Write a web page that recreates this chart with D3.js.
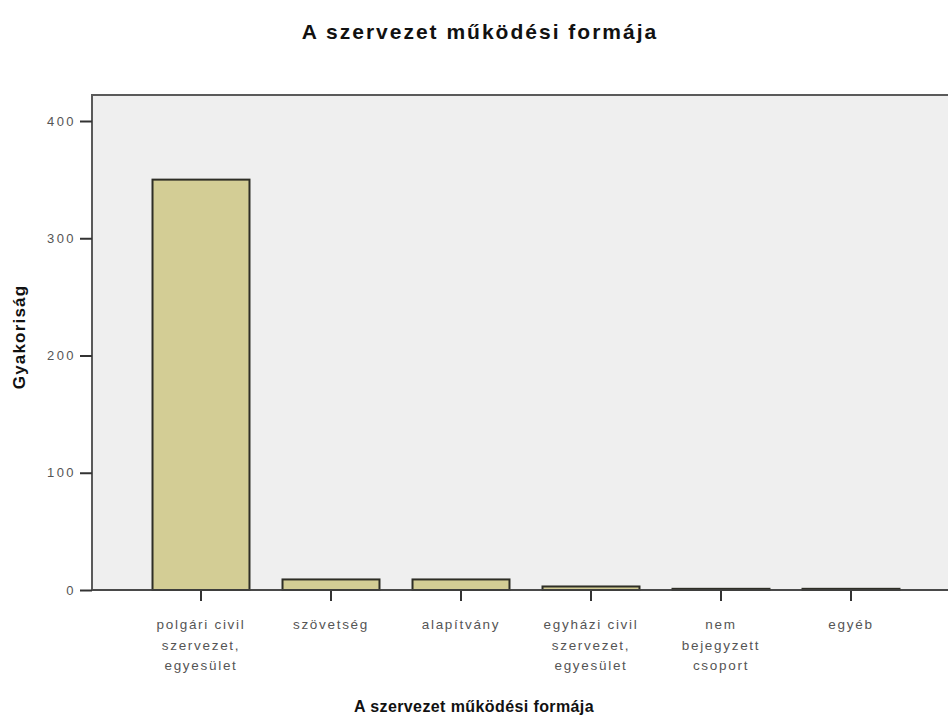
<!DOCTYPE html>
<html>
<head>
<meta charset="utf-8">
<script src="https://cdn.jsdelivr.net/npm/d3@7"></script>
<style>
  html, body { margin: 0; padding: 0; background: #ffffff; }
  svg { display: block; font-family: Arial, "Liberation Sans", sans-serif; }
</style>
</head>
<body>
<script>
// Frequencies of the organisations' operating form
const categories = [
  ["polgári civil", "szervezet,", "egyesület"],
  ["szövetség"],
  ["alapítvány"],
  ["egyházi civil", "szervezet,", "egyesület"],
  ["nem", "bejegyzett", "csoport"],
  ["egyéb"]
];
const counts = [350, 9, 9, 3, 1, 1];
const yTicks = [0, 100, 200, 300, 400];

const chartTitle = "A szervezet működési formája";
const xTitle = "A szervezet működési formája";
const yTitle = "Gyakoriság";

const FONT = "Arial, 'Liberation Sans', sans-serif";
const W = 948, H = 719;
const plot = { left: 92, top: 95, right: 952, bottom: 590 };

const svg = d3.select("body").append("svg")
  .attr("width", W).attr("height", H);

const keys = categories.map(c => c.join(" "));

const x = d3.scaleBand()
  .domain(keys)
  .range([136, 916])
  .paddingInner(0.254)
  .paddingOuter(0.127);

const y = d3.scaleLinear()
  .domain([0, 400])
  .range([590, 121]);

// plot background and frame
svg.append("rect")
  .attr("x", plot.left).attr("y", plot.top)
  .attr("width", plot.right - plot.left).attr("height", plot.bottom - plot.top)
  .attr("fill", "#efefef")
  .attr("stroke", "#5a5a5a").attr("stroke-width", 2);

// bars
svg.append("g").selectAll("rect")
  .data(counts)
  .join("rect")
  .attr("x", (d, i) => x(keys[i]))
  .attr("y", d => y(d))
  .attr("width", x.bandwidth())
  .attr("height", d => y(0) - y(d))
  .attr("fill", "#d3cd95")
  .attr("stroke", "#2e2e26")
  .attr("stroke-width", 2);

// y axis
const yAxis = svg.append("g")
  .attr("transform", `translate(${plot.left},0)`)
  .call(d3.axisLeft(y).tickValues(yTicks).tickSize(12).tickPadding(4).tickFormat(d3.format("d")));
yAxis.select(".domain").remove();
yAxis.selectAll(".tick line").attr("stroke", "#333").attr("stroke-width", 2);
yAxis.selectAll(".tick text")
  .attr("fill", "#555").attr("font-size", 13)
  .attr("font-family", FONT)
  .attr("letter-spacing", 2.4);

// x axis
const xAxis = svg.append("g")
  .attr("transform", `translate(0,${plot.bottom})`)
  .call(d3.axisBottom(x).tickSize(11).tickFormat(""));
xAxis.select(".domain").remove();
xAxis.selectAll(".tick line").attr("stroke", "#333").attr("stroke-width", 2);

// multi-line category labels
xAxis.selectAll(".tick").each(function (d, i) {
  const t = d3.select(this).append("text")
    .attr("fill", "#555")
    .attr("font-size", 13.5)
    .attr("font-family", FONT)
    .attr("letter-spacing", 1.7)
    .attr("text-anchor", "middle")
    .attr("y", 39);
  categories[i].forEach((line, j) => {
    t.append("tspan").attr("x", 0).attr("dy", j === 0 ? 0 : 20.5).text(line);
  });
});

// baseline at zero
svg.append("line")
  .attr("x1", plot.left).attr("x2", plot.right)
  .attr("y1", y(0)).attr("y2", y(0))
  .attr("stroke", "#444").attr("stroke-width", 1.5);

// titles
svg.append("text")
  .attr("x", 480).attr("y", 39)
  .attr("text-anchor", "middle")
  .attr("font-size", 21).attr("font-weight", "bold").attr("fill", "#111")
  .attr("letter-spacing", 2)
  .text(chartTitle);

svg.append("text")
  .attr("x", 474).attr("y", 712)
  .attr("text-anchor", "middle")
  .attr("font-size", 16).attr("font-weight", "bold").attr("fill", "#111")
  .attr("letter-spacing", 0.4)
  .text(xTitle);

svg.append("text")
  .attr("transform", "translate(25,337) rotate(-90)")
  .attr("text-anchor", "middle")
  .attr("font-size", 17).attr("font-weight", "bold").attr("fill", "#111")
  .attr("letter-spacing", 1.2)
  .text(yTitle);
</script>
</body>
</html>
